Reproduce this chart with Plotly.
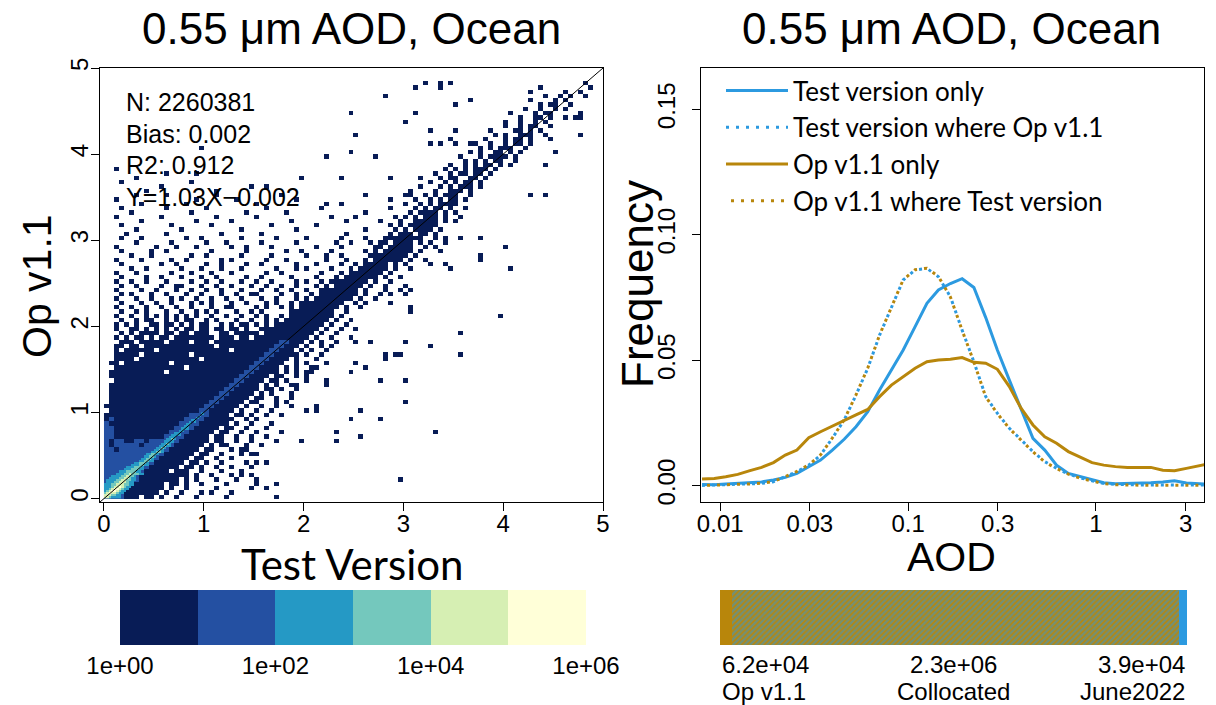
import numpy as np
import plotly.graph_objects as go

TITLE = "0.55 μm AOD, Ocean"

# ---------------- left panel: 2-D histogram (decade level per bin) ----------------
BIN = 0.05          # coarse bin width (AOD units)
N_BINS = 100
# one entry per 0.05-wide y bin from y=0 upward: (first x-bin, pattern); '.' = empty,
# digit k = count in [10^(k-1), 10^k)
C_ROWS = [
    (0, "22221 11.11 .1..1 ...1. ....1 ..... ....1"),
    (0, "22221 11111 1.1.. 1...1 .1... 1...."),
    (0, "22222 11111 11.1. .1... ..1.. ....1"),
    (0, "22222 21111 11.11 .1..1 ....1"),
    (0, "22222 22111 11111 .1.1. ..1.. .1...1"),
    (0, "22222 22111 11111 11.1. .1... 1...1"),
    (0, "22222 22211 111.1 11..1 ...1. ..1"),
    (0, "22222 22221 11111 .11.1 ..1.. 1...1"),
    (0, "22222 22222 11111 1.11. 1..1. ...1. 1"),
    (0, "22222 22222 21111 11.11 ..1.. 1...."),
    (0, "22222 22222 22111 111.1 1..1. ..1.1 1"),
    (0, "22122 22222 22211 1111. 11... 1..1."),
    (0, "21222 22122 22221 11111 .1.11 ...1. .1"),
    (0, "21221 12212 22222 11111 1.11. .1..1"),
    (0, "22111 11111 11222 21111 1.11. .1..1 ..1"),
    (0, "22111 11111 11122 22111 11.11 ..1.. 1"),
    (0, "22111 11111 11112 22211 111.1 1..1. ..1"),
    (0, "21111 11111 11111 22221 11111 .1..1 ...1"),
    (0, "12111 11111 11111 12222 11111 1..1. 1"),
    (0, "11111 11111 11111 11222 21111 .11.1 ..1.. 1"),
    (0, ".1111 11111 11111 11112 21111 1.1.. 1..1."),
    (0, "11111 11111 11111 11111 22111 11.1. .1..1 ..1"),
    (0, ".1111 11111 11111 11111 12211 111.1 1...1 .1"),
    (0, ".1111 11111 11111 11111 11221 1111. 11..1 ..1.."),
    (0, ".1111 11111 11111 11111 11122 11111 .1.1. ..1"),
    (0, ".1111 11111 11111 11111 11112 21111 1.11. 1..1."),
    (0, ".1111 11111 11111 11111 11111 22111 1.1.1 ...1."),
    (0, "..111 11111 11111 11111 11111 12211 11.11 .1... 1"),
    (0, ".1111 11111 11111 11111 11111 11221 111.1 1..1. 1"),
    (0, ".1111 11111 11.11 11111 11111 11122 11111 .1.1. .1"),
    (0, "..111 11111 11111 1.111 11111 11112 21111 .1.1. ..1"),
    (0, ".11.1 11111 111.1 11111 11111 11111 22111 1..1. 1...1"),
    (0, "..111 1.111 11111 1111. 11111 11111 12211 11.1. ..1.."),
    (0, "..111 11.11 11111 11.11 11111 11111 11221 1111. 1..1."),
    (0, "..1.1 11111 .1111 11111 11111 .1111 11122 111.1 .1..1"),
    (0, "..11. 11.11 11111 11111 11.11 11111 11112 2111. 1..1. 1"),
    (0, "...11 1.111 11.11 11.11 1.111 11111 11111 22111 .1.1. .1"),
    (0, "..1.1 .11.1 .11.1 11111 11.11 1.11. 11111 11111 1.1.. 1"),
    (0, "...1. 1.111 1.11. 11.11 1..11 .1111 1.111 11111 11.1. .1"),
    (0, "..1.. 11.1. 1.1.1 .11.1 1.11. 11.1. .1111 11111 111.1 ..1"),
    (0, "..1.1 .1..1 1.11. 1.1.1 1..1. 1.11. 1.1.1 11111 1111. 1..1."),
    (0, "...1. .1.11 ..1.1 .11.. 1.1.. .1..1 ..1.1 .1111 11111 .1..1"),
    (0, "..1.. 1..1. 1.1.1 .1.1. .1..1 ..1.. 1.1.. 1.111 11111 1.1.."),
    (0, "...1. .1.1. ..1.. 1..1. 1.1.. .1..1 .1... ..111 11111 1..1."),
    (0, "..1.. 1..1. .1..1 ..1.. .1..1 1.... 1.1.. 1.1.1 11111 11.1. .1"),
    (0, "...1. ..1.. 1..1. ..1.1 .1... 1..1. ..1.1 ..1.1 11111 111.. 1.1"),
    (0, "..1.. .1..1 ...1. 1..1. .1..1 ..1.. .1..1 ...1. 1.111 11111 .1..1"),
    (0, "...1. 1...1 ..1.. .1..1 ...1. .1..1 1.... 1..1. .1.11 11111 1.1.. 1"),
    (0, "..1.. ..1.. 1...1 ..1.. 1..1. ..1.. .1..1 ..1.. 1..11 11111 1.1.. .1"),
    (0, "...1. .1... .1..1 1...1 ..1.. 1...1 ..1.. 1..1. ..1.1 .1111 11.1. .1"),
    (0, "..1.. 1..1. ..1.. ..1.. 1..1. ..1.. 1..1. ...1. 1..1. 11111 111.1 ..1"),
    (0, "...1. ...1. .1... 1...1 ..1.. ...1. .1... ..1.. ..1.. .1.11 11111 .1..1"),
    (0, "..1.. .1... ...1. ..1.. .1... 1.... ..1.. 1.... ...1. ..1.1 11111 1.1.."),
    (0, "..... 1..1. ..... 1...1 ...1. ..1.. ....1 ...1. 1.... 1...1 .1111 11.1. .1"),
    (0, "...1. ..... .1..1 ..... 1..1. ...1. .1... ...1. ..1.. ..1.. 1.111 11.1. 1"),
    (0, "..1.. ..1.. ...1. .1... ...1. 1.... ..1.. .1... ....1 ...1. ..1.1 11111 .1..1"),
    (0, "..... 1...1 ..... ..1.. 1.... ..1.. ...1. ..... 1...1 ..1.. ...11 11111 1.1.."),
    (0, "...1. ....1 ..1.. ..... .1... ...1. ..... .1..1 ..... 1.... ..1.1 .1111 11.1. ..1"),
    (0, "..1.. ..... 1...1 ...1. ..... 1..1. ...1. ..... ..1.. ..1.. ....1 1.111 11..1 .1"),
    (0, "..... .1... ...1. ..... 1...1 ..... .1... ...1. ..... .1..1 ...1. 11.11 11.1. 1..1"),
    (0, "...1. ..1.. ..... .1..1 ..... ..1.. ....1 ..... 1.... ..1.. ..1.. .1111 1111. .1.1"),
    (0, "....1 ..... ..1.. ..... ...1. ..... .1... ..... ..... ...1. ..... ..1.1 11.11 .1..."),
    (0, "..... .1... ..... 1.... ..... ..1.. ..... ...1. ..... ..... ..1.. ...1. 1.111 1.1.."),
    (0, "...1. ..... ...1. ..... .1... ..... ...1. ..... ..1.. ..... ..... ..1.1 .1111 11..."),
    (0, "..... ..1.. ..... ...1. ..... 1.... ..... ..1.. ..... ...1. ..... ....1 ..111 11.1. 1"),
    (0, "..1.. ..... .1... ..... ..1.. ..... 1.... ..... ..... 1.... ..... ...1. 1.1.1 11.1. .1"),
    (0, "..... 1.... ..... ..1.. ..... ...1. ..... .1... ..... ..... ..1.. ..... .1.11 11.1. 1"),
    (0, "...1. ..... ..1.. ..... 1.... ..... ..1.. ..... ...1. ..... ..... ..1.. ..1.1 .11.1 ..1"),
    (0, "..... ..1.. ..... .1... ..... ..... 1.... ..... ..... ..1.. ..... ..... 1..1. 1.111 1."),
    (0, "..1.. ..... ..... ...1. ..... .1... ..... ...1. ..... ..... ..... ..1.. ..1.. 1.1.1 1.1"),
    (0, "..... .1... ..1.. ..... ..1.. ..... ..... 1.... ..... ..... ..... ..... .1..1 .1.11 1..1"),
    (0, "..... ...1. ..... ..... ..1.. ..... ..... ..... ..... ..... ..... ..... .1... .1..1 11.1."),
    (0, "..... ..... .1... ..... ..... ....1 ..... ..... ..... ..... ..... ..... ...1. ..1.1 .111. 1"),
    (0, "...1. ..... ..... ..1.. ..... ..... ..... ..... ..... ..... ..... ..... ..... 1..1. 1.11. 1"),
    (0, "..... .1... ..... ..... ..... ..... ..... ..... ..... ..... ..... ..... ...1. ..1.1 1..11 .1"),
    (0, "..... ..... ..1.. ..... ..... ..... ..... ..... ..... ..... ..... ..... ..... .1..1 .11.1 1.1"),
    (0, "..1.. ..... ..... ..... ..... ..... ..... ..... ..... ..... ..... ..... ..... ...1. 1.1.1 11.1"),
    (69, "1..1.1.11.1.1"),
    (70, "..1.1.1.11..1"),
    (71, "1...1.1111.1."),
    (72, ".1.1..11.1.1."),
    (73, "..1.1.111..1."),
    (74, "1..1..1.11.1."),
    (75, ".1...1.11.1.."),
    (76, "..1.1..111..1"),
    (77, "1....11.1.1.."),
    (78, "..1..1.11..1."),
    (79, ".1..1..1.1..."),
    (80, "...1..11.1..1"),
    (81, "1....1.11...."),
    (82, "..1..1..1.1.."),
    (83, "....1.11..1.."),
    (84, ".1....1.1...."),
    (85, "...1..1.1..1."),
    (86, "......1..1..."),
    (87, "..........1.."),
    (88, "........1...."),
]

FINE_BIN = 0.025    # fine bins near the origin for the high-count core
N_FINE = 40
F_ROWS = [
    (0, "5543333"), (0, "5554433"), (0, "45655433"), (0, "345665433"),
    (0, "3345665433"), (0, "33345565433"), (0, "333445554433"), (1, "33344555433"),
    (1, "333344554433"), (2, "33334455433"), (3, "3333445443"), (5, "33344544433"),
    (6, "333444433"), (8, "33344433"), (9, "3334443"), (11, "3334433"),
    (12, "334443"), (14, "334433"), (15, "33443"), (16, "33443"),
    (17, "33443"), (19, "33443"), (20, "3343"), (21, "3343"),
    (22, "33433"), (23, "3343"), (24, "3333"), (25, "3343"),
    (26, "333"), (27, "3333"), (28, "333"), (30, "33"),
    (31, "333"), (32, "33"), (33, "33"), (34, "3.3"),
    (35, "33"), (37, "3"), (38, "3"), (39, "3"),
]

# isolated single-count bins (Test Version, Op v1.1)
OUTLIER_X = [2.97, 3.32, 3.57, 3.57, 3.28, 3.04, 3.04, 2.75, 2.58, 2.58, 2.46, 2.32, 2.31,
             2.02, 2.10, 2.14, 1.98, 1.74, 1.60, 1.50, 1.40, 1.62, 1.50, 1.35, 1.70, 1.78,
             1.88, 1.88, 2.24, 2.24, 2.02, 2.06, 2.48, 2.53, 2.63, 2.79, 2.83, 2.95, 3.05,
             2.53, 2.67, 2.48, 2.50, 2.95, 3.09, 3.07, 3.96, 2.82, 2.94, 3.06, 2.85, 2.90,
             3.00, 3.05, 3.30, 3.40, 3.48, 3.78, 3.78, 4.06, 4.03, 3.57, 3.79, 4.30, 4.43,
             4.44, 4.80, 4.80, 4.80, 4.72, 4.54, 4.46, 4.37, 4.25, 3.13, 3.20, 3.38, 3.45,
             3.37, 3.55, 3.65, 2.82, 3.04, 3.13, 3.28, 3.52, 3.30, 3.35, 3.46, 3.55, 3.66,
             2.45, 2.53, 2.20, 2.49, 2.70, 1.95, 2.60, 2.35, 2.90, 3.00, 2.20, 2.50, 2.80,
             1.60, 0.97, 0.91]
OUTLIER_Y = [0.23, 0.79, 1.67, 1.91, 1.79, 1.35, 1.10, 0.95, 0.72, 1.00, 0.95, 0.68, 0.79,
             1.03, 1.03, 1.05, 0.70, 0.17, 0.15, 0.17, 0.29, 0.43, 0.53, 0.56, 0.70, 0.78,
             1.22, 1.30, 1.34, 1.40, 1.47, 1.53, 1.47, 1.55, 1.53, 1.38, 1.67, 1.69, 1.82,
             1.80, 1.80, 1.90, 1.97, 2.42, 2.42, 2.19, 2.15, 1.65, 1.68, 2.20, 2.30, 2.38,
             2.40, 2.48, 2.70, 2.70, 2.66, 2.80, 2.83, 2.67, 2.91, 3.05, 3.00, 3.54, 3.50,
             3.88, 4.22, 4.42, 4.47, 4.42, 4.03, 4.17, 4.80, 4.70, 4.78, 4.82, 4.85, 4.85,
             4.80, 4.60, 4.64, 4.67, 4.39, 4.47, 4.29, 4.29, 4.14, 4.14, 4.16, 4.11, 4.11,
             4.45, 4.24, 3.95, 4.00, 3.97, 3.70, 3.55, 3.72, 3.72, 3.50, 3.40, 3.30, 3.20,
             3.60, 4.07, 3.78]

LEVEL_COLORS = ["#081C56", "#2450A2", "#2599C5", "#74C8BD", "#D6EFB3", "#FFFFD8"]
DECADE_TICKS = [0, 2, 4, 6]

STATS_N = 2260381
STATS_BIAS = 0.002
STATS_R2 = 0.912
FIT_SLOPE = 1.03
FIT_INTERCEPT = -0.002

# ---------------- right panel: frequency distributions ----------------
AOD = [0.008, 0.0093, 0.0107, 0.0124, 0.0144, 0.0166, 0.0192, 0.0222, 0.0256, 0.0296,
       0.0342, 0.0395, 0.0457, 0.0528, 0.061, 0.0705, 0.0815, 0.0942, 0.109, 0.126,
       0.145, 0.168, 0.194, 0.224, 0.259, 0.299, 0.346, 0.40, 0.462, 0.534,
       0.617, 0.713, 0.824, 0.953, 1.10, 1.27, 1.47, 1.70, 1.96, 2.27,
       2.62, 3.03, 3.51, 3.80]
TEST_ONLY = [0.0005, 0.0004, 0.0007, 0.0009, 0.0011, 0.0015, 0.0023, 0.0033, 0.0049, 0.0076,
             0.0102, 0.0142, 0.0185, 0.0235, 0.0295, 0.0381, 0.0461, 0.0541, 0.0634, 0.0727,
             0.0780, 0.0806, 0.0825, 0.0790, 0.0670, 0.0540, 0.0421, 0.0308, 0.0189, 0.0142,
             0.0082, 0.0049, 0.0036, 0.0023, 0.0012, 0.0008, 0.0009, 0.0011, 0.0012, 0.0015,
             0.0020, 0.0011, 0.0008, 0.0007]
TEST_COLLOC = [0.0001, 0.0003, 0.0004, 0.0005, 0.0007, 0.0009, 0.0016, 0.0036, 0.0056, 0.0082,
               0.0122, 0.0189, 0.0262, 0.0361, 0.0468, 0.0600, 0.0713, 0.0820, 0.0860, 0.0866,
               0.0833, 0.0753, 0.0620, 0.0494, 0.0355, 0.0288, 0.0229, 0.0182, 0.0136, 0.0096,
               0.0069, 0.0047, 0.0031, 0.0020, 0.0009, 0.0005, 0.0003, 0.0003, 0.0003, 0.0003,
               0.0003, 0.0003, 0.0003, 0.0003]
OP_ONLY = [0.0027, 0.0029, 0.0036, 0.0045, 0.0060, 0.0073, 0.0092, 0.0122, 0.0142, 0.0191,
           0.0215, 0.0238, 0.0262, 0.0282, 0.0304, 0.0355, 0.0401, 0.0434, 0.0468, 0.0494,
           0.0501, 0.0504, 0.0511, 0.0492, 0.0488, 0.0464, 0.0395, 0.0308, 0.0242, 0.0195,
           0.0169, 0.0136, 0.0113, 0.0092, 0.0082, 0.0076, 0.0073, 0.0072, 0.0073, 0.0062,
           0.0060, 0.0069, 0.0078, 0.0084]
OP_COLLOC = [0.0001, 0.0002, 0.0004, 0.0005, 0.0007, 0.0010, 0.0017, 0.0036, 0.0057, 0.0083,
             0.0123, 0.0190, 0.0263, 0.0362, 0.0469, 0.0601, 0.0714, 0.0821, 0.0861, 0.0867,
             0.0834, 0.0752, 0.0619, 0.0493, 0.0354, 0.0287, 0.0228, 0.0181, 0.0135, 0.0095,
             0.0068, 0.0046, 0.0030, 0.0019, 0.0008, 0.0004, 0.0002, 0.0002, 0.0002, 0.0002,
             0.0002, 0.0002, 0.0002, 0.0002]
SERIES_NAMES = ["Test version only", "Test version where Op v1.1",
                "Op v1.1 only", "Op v1.1 where Test version"]
AOD_TICKS = [0.01, 0.03, 0.1, 0.3, 1, 3]
FREQ_TICKS = [0.0, 0.05, 0.10, 0.15]

# sample counts bar
COUNT_NAMES = ["Op v1.1", "Collocated", "June2022"]
COUNTS = [6.2e4, 2.3e6, 3.9e4]

BLUE = "#2C9AE0"
ORANGE = "#B8860B"
RFONT = "Liberation Sans"
CFONT = "Lato"
W, H = 1216, 705


def px(x):
    return x / W


def py(y):
    return 1 - y / H


def build_grid(rows, n):
    z = np.full((n, n), np.nan)
    for j, (start, pat) in enumerate(rows):
        pat = pat.replace(" ", "")
        for k, ch in enumerate(pat):
            c = start + k
            if ch != "." and c < n and j < n:
                z[j, c] = int(ch) - 0.5
    return z


zc = build_grid(C_ROWS, N_BINS)
for ox, oy in zip(OUTLIER_X, OUTLIER_Y):
    c, j = int(ox / BIN), int(oy / BIN)
    if c < N_BINS and j < N_BINS and np.isnan(zc[j, c]):
        zc[j, c] = 0.5
zf = build_grid(F_ROWS, N_FINE)
xc = (np.arange(N_BINS) + 0.5) * BIN
xf = (np.arange(N_FINE) + 0.5) * FINE_BIN

nlev = len(LEVEL_COLORS)
cscale = []
for i, col in enumerate(LEVEL_COLORS):
    cscale.append([i / nlev, col])
    cscale.append([(i + 1) / nlev, col])

fig = go.Figure()
fig.add_trace(go.Heatmap(x=xc, y=xc, z=zc, coloraxis="coloraxis", hoverinfo="skip",
                         xaxis="x", yaxis="y", showlegend=False))
fig.add_trace(go.Heatmap(x=xf, y=xf, z=zf, coloraxis="coloraxis", hoverinfo="skip",
                         xaxis="x", yaxis="y", showlegend=False))

AX_LO, AX_HI = -0.04, 5.0
fig.add_trace(go.Scatter(x=[AX_LO, AX_HI], y=[AX_LO, AX_HI], mode="lines",
                         line=dict(color="black", width=1), showlegend=False,
                         hoverinfo="skip", xaxis="x", yaxis="y"))

# right panel curves
styles = [
    (TEST_ONLY, BLUE, "solid"),
    (TEST_COLLOC, BLUE, "3px,7px"),
    (OP_ONLY, ORANGE, "solid"),
    (OP_COLLOC, ORANGE, "0px,5px,3px,2px"),
]
for name, (vals, col, dash) in zip(SERIES_NAMES, styles):
    fig.add_trace(go.Scatter(x=AOD, y=vals, mode="lines", name=name,
                             line=dict(color=col, width=3, dash=dash),
                             xaxis="x2", yaxis="y2"))

# counts bar
total = sum(COUNTS)
for i, (nm, v) in enumerate(zip(COUNT_NAMES, COUNTS)):
    marker = dict(color=BLUE if i == 2 else ORANGE, line=dict(width=0))
    if i == 1:
        marker["pattern"] = dict(shape="/", fgcolor=BLUE, size=4, solidity=0.62,
                                 fillmode="overlay")
    fig.add_trace(go.Bar(x=[v], y=["n"], orientation="h", marker=marker,
                         showlegend=False, hoverinfo="skip", xaxis="x3", yaxis="y3"))

axis_common = dict(showgrid=False, zeroline=False, showline=True, mirror=True,
                   linecolor="black", linewidth=1.3, ticks="outside", ticklen=8,
                   tickwidth=1.2, tickcolor="black", automargin=False,
                   tickfont=dict(family=RFONT, size=24, color="black"))

fig.update_layout(
    width=W, height=H, margin=dict(l=0, r=0, t=0, b=0, pad=0, autoexpand=False),
    paper_bgcolor="white", plot_bgcolor="white",
    barmode="stack", bargap=0,
    coloraxis=dict(
        colorscale=cscale, cmin=0, cmax=nlev,
        colorbar=dict(orientation="h", x=px(353), xanchor="center", y=py(590),
                      yanchor="top", len=466, lenmode="pixels", thickness=55,
                      thicknessmode="pixels", tickvals=DECADE_TICKS,
                      ticktext=[f"1e+{d:02d}" for d in DECADE_TICKS], ticks="",
                      tickfont=dict(family=RFONT, size=24, color="black"),
                      outlinewidth=0, xpad=0, ypad=0)),
    xaxis=dict(domain=[px(100), px(603)], range=[AX_LO, AX_HI], ticklabelstandoff=-8,
               tickvals=[0, 1, 2, 3, 4, 5], **axis_common),
    yaxis=dict(domain=[py(502), py(68)], range=[AX_LO, AX_HI], ticklabelstandoff=-7,
               tickvals=[0, 1, 2, 3, 4, 5], tickangle=-90, **axis_common),
    xaxis2=dict(domain=[px(701), px(1204)], type="log", anchor="y2", ticklabelstandoff=-8,
                range=[np.log10(0.0079), np.log10(3.76)], tickvals=AOD_TICKS,
                ticktext=[f"{t:g}" for t in AOD_TICKS], **axis_common),
    yaxis2=dict(domain=[py(502), py(68)], range=[-0.0065, 0.1665], anchor="x2",
                ticklabelstandoff=7,
                tickvals=FREQ_TICKS, ticktext=[f"{t:.2f}" for t in FREQ_TICKS],
                tickangle=-90, **axis_common),
    xaxis3=dict(domain=[px(720), px(1187)], range=[0, total], visible=False,
                anchor="y3"),
    yaxis3=dict(domain=[py(645), py(590)], range=[-0.5, 0.5], visible=False,
                anchor="x3"),
    legend=dict(x=px(721), y=py(67), xanchor="left", yanchor="top",
                traceorder="normal",
                font=dict(family=CFONT, size=26, color="black"),
                bgcolor="rgba(0,0,0,0)", itemwidth=62),
)

ann = []
for cx in (351, 951):
    ann.append(dict(text=TITLE, x=px(cx), y=py(28), xref="paper", yref="paper",
                    xanchor="center", yanchor="middle", showarrow=False,
                    font=dict(family=RFONT, size=44, color="black")))
stats_lines = [f"N: {STATS_N}", f"Bias: {STATS_BIAS:.3f}", f"R2: {STATS_R2:.3f}",
               f"Y={FIT_SLOPE:.2f}X{'−' if FIT_INTERCEPT < 0 else '+'}{abs(FIT_INTERCEPT):.3f}"]
for i, s in enumerate(stats_lines):
    ann.append(dict(text=s, x=px(124), y=py(102 + 31.5 * i), xref="paper", yref="paper",
                    xanchor="left", yanchor="middle", showarrow=False,
                    font=dict(family=RFONT, size=25, color="black")))
ann.append(dict(text="Op v1.1", x=px(37), y=py(286), xref="paper", yref="paper",
                xanchor="center", yanchor="middle", textangle=-90, showarrow=False,
                font=dict(family=RFONT, size=41, color="black")))
ann.append(dict(text="Frequency", x=px(637), y=py(284), xref="paper", yref="paper",
                xanchor="center", yanchor="middle", textangle=-90, showarrow=False,
                font=dict(family=RFONT, size=44, color="black")))
ann.append(dict(text="Test Version", x=px(352), y=py(564), xref="paper", yref="paper",
                xanchor="center", yanchor="middle", showarrow=False,
                font=dict(family=CFONT, size=42, color="black")))
ann.append(dict(text="AOD", x=px(951), y=py(557), xref="paper", yref="paper",
                xanchor="center", yanchor="middle", showarrow=False,
                font=dict(family=RFONT, size=41, color="black")))
positions = [(0, "left"), (total / 2, "center"), (total, "right")]
for (xv, anc), nm, v in zip(positions, COUNT_NAMES, COUNTS):
    ann.append(dict(text=f"{v:.1e}", x=xv, y=py(664), xref="x3", yref="paper",
                    xanchor=anc, yanchor="middle", showarrow=False,
                    font=dict(family=RFONT, size=24, color="black")))
    ann.append(dict(text=nm, x=xv, y=py(691), xref="x3", yref="paper",
                    xanchor=anc, yanchor="middle", showarrow=False,
                    font=dict(family=RFONT, size=24, color="black")))
fig.update_layout(annotations=ann)

fig.write_html("out.html")
